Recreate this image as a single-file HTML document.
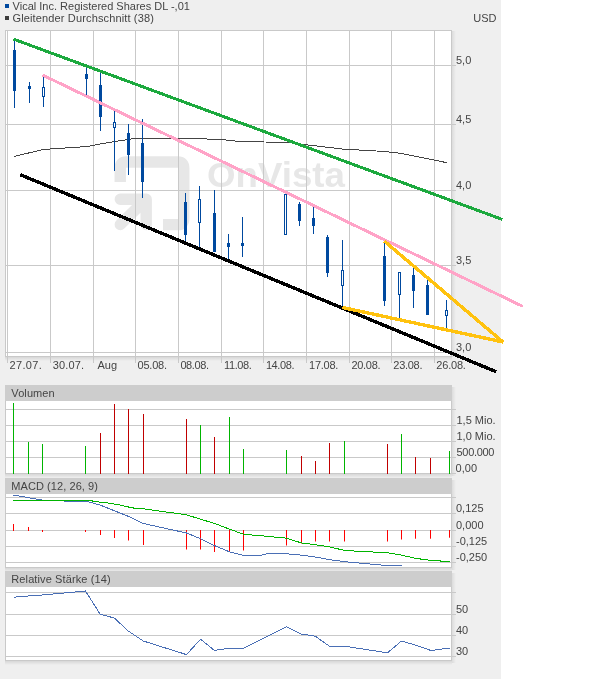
<!DOCTYPE html>
<html><head><meta charset="utf-8"><title>Vical Inc. Chart</title>
<style>html,body{margin:0;padding:0;background:#fff}svg{display:block}text{font-family:"Liberation Sans",Arial,sans-serif;font-size:11px;fill:#444444}</style></head><body>
<svg width="614" height="679" viewBox="0 0 614 679">
<defs><linearGradient id="sh" x1="0" y1="0" x2="0" y2="1"><stop offset="0" stop-color="#000" stop-opacity="0.10"/><stop offset="1" stop-color="#000" stop-opacity="0"/></linearGradient>
<linearGradient id="shr" x1="0" y1="0" x2="1" y2="0"><stop offset="0" stop-color="#000" stop-opacity="0.08"/><stop offset="1" stop-color="#000" stop-opacity="0"/></linearGradient></defs>
<rect x="0" y="0" width="501" height="679" fill="#efefef"/>
<rect x="5" y="4" width="4" height="4" fill="#00499f"/>
<rect x="5" y="16" width="4" height="4" fill="#3c3c3c"/>
<text x="12.600" y="10">Vical Inc. Registered Shares DL -,01</text>
<text x="12.500" y="22" style="letter-spacing:0.14px">Gleitender Durchschnitt (38)</text>
<text x="473.3" y="22">USD</text>
<rect x="452" y="31" width="4" height="326" fill="url(#shr)"/>
<rect x="5" y="357" width="447" height="4" fill="url(#sh)"/>
<rect x="5" y="30" width="447" height="327" fill="#fff"/>
<g fill="none" stroke="#e7e7e7" stroke-width="11.4">
<path d="M120.25,182 V168 Q120.25,162 126.25,162 H177.75 Q183.75,162 183.75,168 V218.600 Q183.75,224.600 177.75,224.600 H163" stroke-linejoin="round"/>
<path d="M120.300,199.200 H146.200 V224.500 M146.200,199.200 L120.300,224.500" stroke-linejoin="round" stroke-linecap="round"/>
</g>
<text x="207" y="187" textLength="138" lengthAdjust="spacingAndGlyphs" style="font-size:35px;font-weight:bold;fill:#e7e7e7">OnVista</text>
<rect x="7" y="31" width="1" height="332" fill="#c9c9c9"/>
<rect x="50" y="31" width="1" height="332" fill="#c9c9c9"/>
<rect x="93" y="31" width="1" height="332" fill="#c9c9c9"/>
<rect x="135" y="31" width="1" height="332" fill="#c9c9c9"/>
<rect x="178" y="31" width="1" height="332" fill="#c9c9c9"/>
<rect x="221" y="31" width="1" height="332" fill="#c9c9c9"/>
<rect x="263" y="31" width="1" height="332" fill="#c9c9c9"/>
<rect x="306" y="31" width="1" height="332" fill="#c9c9c9"/>
<rect x="349" y="31" width="1" height="332" fill="#c9c9c9"/>
<rect x="391" y="31" width="1" height="332" fill="#c9c9c9"/>
<rect x="434" y="31" width="1" height="332" fill="#c9c9c9"/>
<rect x="6" y="65" width="450" height="1" fill="#c9c9c9"/>
<rect x="6" y="124" width="450" height="1" fill="#c9c9c9"/>
<rect x="6" y="190" width="450" height="1" fill="#c9c9c9"/>
<rect x="6" y="265" width="450" height="1" fill="#c9c9c9"/>
<rect x="6" y="352" width="450" height="1" fill="#c9c9c9"/>
<rect x="5" y="30" width="447" height="1" fill="#c9c9c9"/>
<rect x="5" y="356" width="447" height="1" fill="#c9c9c9"/>
<rect x="5" y="30" width="1" height="327" fill="#c9c9c9"/>
<rect x="451" y="30" width="1" height="327" fill="#c9c9c9"/>
<text x="456" y="64">5,0</text>
<text x="456" y="123">4,5</text>
<text x="456" y="189">4,0</text>
<text x="456" y="264">3,5</text>
<text x="456" y="351">3,0</text>
<text x="9.4" y="369" style="letter-spacing:0.38px">27.07.</text>
<text x="52.8" y="369" style="letter-spacing:0.14px">30.07.</text>
<text x="97.5" y="369" style="letter-spacing:0px">Aug</text>
<text x="137.5" y="369" style="letter-spacing:-0.2px">05.08.</text>
<text x="180.4" y="369" style="letter-spacing:-0.4px">08.08.</text>
<text x="224.1" y="369" style="letter-spacing:-0.4px">11.08.</text>
<text x="265.9" y="369" style="letter-spacing:-0.4px">14.08.</text>
<text x="309.1" y="369" style="letter-spacing:-0.28px">17.08.</text>
<text x="351.4" y="369" style="letter-spacing:-0.28px">20.08.</text>
<text x="393.3" y="369" style="letter-spacing:-0.28px">23.08.</text>
<text x="436.3" y="369" style="letter-spacing:-0.2px">26.08.</text>
<polyline shape-rendering="crispEdges" fill="none" stroke="#444" stroke-width="1" points="14,156.5 43,149.5 88,146.5 100,144 114,141.6 128,139.5 137,138.2 200,138.2 207,139 221,139.5 235,141 264,142 286,142.2 300,144 342,149 385,151.5 400,153.2 447,162.7"/>
<rect x="14" y="39" width="1" height="69" fill="#00499f"/>
<rect x="13" y="50" width="3" height="41" fill="#00499f"/>
<rect x="29" y="82" width="1" height="21" fill="#00499f"/>
<rect x="28" y="86" width="3" height="3" fill="#00499f"/>
<rect x="43" y="77" width="1" height="30" fill="#00499f"/>
<rect x="42.5" y="87.5" width="2" height="9" fill="#fff" stroke="#00499f" stroke-width="1"/>
<rect x="86" y="67" width="1" height="28" fill="#00499f"/>
<rect x="85" y="74" width="3" height="5" fill="#00499f"/>
<rect x="100" y="73" width="1" height="58" fill="#00499f"/>
<rect x="99" y="85" width="3" height="32" fill="#00499f"/>
<rect x="114" y="111" width="1" height="60" fill="#00499f"/>
<rect x="113.5" y="122.5" width="2" height="5" fill="#fff" stroke="#00499f" stroke-width="1"/>
<rect x="128" y="124" width="1" height="51" fill="#00499f"/>
<rect x="127" y="133" width="3" height="22" fill="#00499f"/>
<rect x="142" y="119" width="1" height="79" fill="#00499f"/>
<rect x="141" y="143" width="3" height="39" fill="#00499f"/>
<rect x="185" y="193" width="1" height="48" fill="#00499f"/>
<rect x="184" y="202" width="3" height="33" fill="#00499f"/>
<rect x="199" y="186" width="1" height="61" fill="#00499f"/>
<rect x="198.5" y="199.5" width="2" height="23" fill="#fff" stroke="#00499f" stroke-width="1"/>
<rect x="214" y="190" width="1" height="62" fill="#00499f"/>
<rect x="213" y="213" width="3" height="39" fill="#00499f"/>
<rect x="228" y="234" width="1" height="25" fill="#00499f"/>
<rect x="227" y="243" width="3" height="4" fill="#00499f"/>
<rect x="242" y="217" width="1" height="40" fill="#00499f"/>
<rect x="241" y="243" width="3" height="3" fill="#00499f"/>
<rect x="285" y="194" width="1" height="41" fill="#00499f"/>
<rect x="284.5" y="194.5" width="2" height="40" fill="#fff" stroke="#00499f" stroke-width="1"/>
<rect x="299" y="202" width="1" height="24" fill="#00499f"/>
<rect x="298" y="204" width="3" height="17" fill="#00499f"/>
<rect x="313" y="207" width="1" height="27" fill="#00499f"/>
<rect x="312" y="218" width="3" height="8" fill="#00499f"/>
<rect x="327" y="235" width="1" height="42" fill="#00499f"/>
<rect x="326" y="237" width="3" height="36" fill="#00499f"/>
<rect x="342" y="240" width="1" height="67" fill="#00499f"/>
<rect x="341.5" y="270.5" width="2" height="15" fill="#fff" stroke="#00499f" stroke-width="1"/>
<rect x="384" y="242" width="1" height="64" fill="#00499f"/>
<rect x="383" y="256" width="3" height="45" fill="#00499f"/>
<rect x="399" y="272" width="1" height="46" fill="#00499f"/>
<rect x="398.5" y="272.5" width="2" height="22" fill="#fff" stroke="#00499f" stroke-width="1"/>
<rect x="413" y="268" width="1" height="40" fill="#00499f"/>
<rect x="412" y="275" width="3" height="16" fill="#00499f"/>
<rect x="427" y="280" width="1" height="35" fill="#00499f"/>
<rect x="426" y="285" width="3" height="30" fill="#00499f"/>
<rect x="446" y="300" width="1" height="29" fill="#00499f"/>
<rect x="445.5" y="310.5" width="2" height="5" fill="#fff" stroke="#00499f" stroke-width="1"/>
<g shape-rendering="crispEdges">
<line x1="13.5" y1="39.1" x2="502.5" y2="219.5" stroke="#1ca93e" stroke-width="3"/>
<line x1="42.5" y1="75" x2="523" y2="306.5" stroke="#ffa3c7" stroke-width="3"/>
<line x1="20.3" y1="174.700" x2="496.300" y2="371.800" stroke="#000" stroke-width="3.4"/>
<polyline points="342.5,307.500 503,342 384.200,241" fill="none" stroke="#ffc20e" stroke-width="3.4" stroke-linejoin="miter"/>
</g>
<rect x="5" y="474" width="447" height="4" fill="url(#sh)"/>
<rect x="452" y="387" width="4" height="89" fill="url(#shr)"/>
<rect x="5" y="385" width="447" height="16" fill="#cdcdcd"/>
<text x="11.300" y="397" style="letter-spacing:0.1px">Volumen</text>
<rect x="5" y="401" width="447" height="73" fill="#fff"/>
<rect x="6" y="409" width="450" height="1" fill="#c9c9c9"/>
<rect x="6" y="425" width="450" height="1" fill="#c9c9c9"/>
<rect x="6" y="441" width="450" height="1" fill="#c9c9c9"/>
<rect x="6" y="457" width="450" height="1" fill="#c9c9c9"/>
<rect x="6" y="473" width="450" height="1" fill="#c9c9c9"/>
<rect x="5" y="473" width="447" height="1" fill="#c9c9c9"/>
<rect x="5" y="401" width="1" height="73" fill="#c9c9c9"/>
<rect x="451" y="401" width="1" height="73" fill="#c9c9c9"/>
<text x="456.5" y="424">1,5 Mio.</text>
<text x="456.5" y="440">1,0 Mio.</text>
<text x="456.5" y="456" style="letter-spacing:-0.3px">500.000</text>
<text x="455.6" y="472">0,00</text>
<rect x="13" y="403" width="1" height="71" fill="#00b400"/>
<rect x="28" y="442" width="1" height="32" fill="#00b400"/>
<rect x="42" y="444" width="1" height="30" fill="#00b400"/>
<rect x="85" y="446" width="1" height="28" fill="#00b400"/>
<rect x="100" y="433" width="1" height="41" fill="#c00000"/>
<rect x="114" y="404" width="1" height="70" fill="#c00000"/>
<rect x="128" y="409" width="1" height="65" fill="#c00000"/>
<rect x="143" y="414" width="1" height="60" fill="#c00000"/>
<rect x="186" y="419" width="1" height="55" fill="#c00000"/>
<rect x="200" y="425" width="1" height="49" fill="#00b400"/>
<rect x="214" y="437" width="1" height="37" fill="#c00000"/>
<rect x="229" y="417" width="1" height="57" fill="#00b400"/>
<rect x="243" y="449" width="1" height="25" fill="#00b400"/>
<rect x="286" y="450" width="1" height="24" fill="#00b400"/>
<rect x="301" y="456" width="1" height="18" fill="#c00000"/>
<rect x="315" y="461" width="1" height="13" fill="#c00000"/>
<rect x="329" y="443" width="1" height="31" fill="#c00000"/>
<rect x="344" y="441" width="1" height="33" fill="#00b400"/>
<rect x="387" y="444" width="1" height="30" fill="#c00000"/>
<rect x="401" y="434" width="1" height="40" fill="#00b400"/>
<rect x="415" y="457" width="1" height="17" fill="#c00000"/>
<rect x="430" y="458" width="1" height="16" fill="#c00000"/>
<rect x="449" y="451" width="1" height="23" fill="#00b400"/>
<rect x="5" y="568" width="447" height="4" fill="url(#sh)"/>
<rect x="452" y="480" width="4" height="90" fill="url(#shr)"/>
<rect x="5" y="478" width="447" height="16" fill="#cdcdcd"/>
<text x="11.300" y="490" style="letter-spacing:0.07px">MACD (12, 26, 9)</text>
<rect x="5" y="494" width="447" height="74" fill="#fff"/>
<rect x="6" y="497" width="450" height="1" fill="#c9c9c9"/>
<rect x="6" y="513" width="450" height="1" fill="#c9c9c9"/>
<rect x="6" y="530" width="450" height="1" fill="#c9c9c9"/>
<rect x="6" y="546" width="450" height="1" fill="#c9c9c9"/>
<rect x="6" y="562" width="450" height="1" fill="#c9c9c9"/>
<rect x="5" y="567" width="447" height="1" fill="#c9c9c9"/>
<rect x="5" y="494" width="1" height="74" fill="#c9c9c9"/>
<rect x="451" y="494" width="1" height="74" fill="#c9c9c9"/>
<text x="456" y="512">0,125</text>
<text x="456" y="529">0,000</text>
<text x="456" y="545">-0,125</text>
<text x="456" y="561">-0,250</text>
<rect x="13" y="524" width="1" height="7" fill="#ff0000"/>
<rect x="28" y="527" width="1" height="4" fill="#ff0000"/>
<rect x="42" y="530" width="1" height="2" fill="#ff0000"/>
<rect x="85" y="530" width="1" height="2" fill="#ff0000"/>
<rect x="100" y="530" width="1" height="5" fill="#ff0000"/>
<rect x="114" y="530" width="1" height="8" fill="#ff0000"/>
<rect x="128" y="530" width="1" height="10.5" fill="#ff0000"/>
<rect x="143" y="530" width="1" height="15" fill="#ff0000"/>
<rect x="186" y="530" width="1" height="19.5" fill="#ff0000"/>
<rect x="200" y="530" width="1" height="19.5" fill="#ff0000"/>
<rect x="214" y="530" width="1" height="22" fill="#ff0000"/>
<rect x="229" y="530" width="1" height="22" fill="#ff0000"/>
<rect x="243" y="530" width="1" height="20.5" fill="#ff0000"/>
<rect x="286" y="530" width="1" height="15.5" fill="#ff0000"/>
<rect x="301" y="530" width="1" height="13.5" fill="#ff0000"/>
<rect x="315" y="530" width="1" height="11.5" fill="#ff0000"/>
<rect x="329" y="530" width="1" height="11.5" fill="#ff0000"/>
<rect x="344" y="530" width="1" height="11.5" fill="#ff0000"/>
<rect x="387" y="530" width="1" height="11.5" fill="#ff0000"/>
<rect x="401" y="530" width="1" height="9.5" fill="#ff0000"/>
<rect x="415" y="530" width="1" height="8.7" fill="#ff0000"/>
<rect x="430" y="530" width="1" height="8.7" fill="#ff0000"/>
<rect x="449" y="530" width="1" height="7.7" fill="#ff0000"/>
<polyline shape-rendering="crispEdges" fill="none" stroke="#4a6fb5" stroke-width="1" points="13,495.5 16,495.5 39,499.5 45,500.5 64,500.5 64.5,501.5 87,501.5 100,505 114,510.6 128,516.2 143,523.4 186.5,533 200.6,538.7 214.4,545.5 229.5,551.8 243.5,555.4 260,555.4 267,553.8 286.5,553.8 301.4,555.1 315.4,557 329.4,559.6 344.6,561.7 387.6,565.6 401.8,565.6"/>
<polyline shape-rendering="crispEdges" fill="none" stroke="#00b400" stroke-width="1" points="13,500.5 92,500.5 93,501.5 104,502.5 111,503.5 117.5,504.5 126,506.5 136,508.5 143,508.8 186.5,514.8 200.6,519.2 214.4,523.4 229.5,529.1 243.5,534.3 260,535.6 286.5,538.2 301.4,542.9 315.4,544.7 329.4,546.8 344.6,550.5 387.6,552.8 401.4,555.1 415.4,558.3 430.6,560.4 440,560.5 440.5,561.5 450,561.5"/>
<rect x="5" y="661" width="447" height="4" fill="url(#sh)"/>
<rect x="452" y="573" width="4" height="90" fill="url(#shr)"/>
<rect x="5" y="571" width="447" height="16" fill="#cdcdcd"/>
<text x="11.300" y="583" style="letter-spacing:0.11px">Relative Stärke (14)</text>
<rect x="5" y="587" width="447" height="74" fill="#fff"/>
<rect x="6" y="592" width="450" height="1" fill="#c9c9c9"/>
<rect x="6" y="614" width="450" height="1" fill="#c9c9c9"/>
<rect x="6" y="635" width="450" height="1" fill="#c9c9c9"/>
<rect x="6" y="656" width="450" height="1" fill="#c9c9c9"/>
<rect x="5" y="660" width="447" height="1" fill="#c9c9c9"/>
<rect x="5" y="587" width="1" height="74" fill="#c9c9c9"/>
<rect x="451" y="587" width="1" height="74" fill="#c9c9c9"/>
<text x="456" y="613">50</text>
<text x="456" y="634">40</text>
<text x="456" y="655">30</text>
<polyline shape-rendering="crispEdges" fill="none" stroke="#4a6fb5" stroke-width="1" points="13.5,597.2 28,596 42.5,595 85.5,591 100.3,614.4 114.4,618 128.2,631 143.3,641 186.5,654.6 200.6,639.2 214.4,650.4 229.5,648.3 243.5,648.3 286.5,626.7 301.4,634 315.4,636.3 329.4,646.2 344.6,646.2 387.6,652.8 401.4,641 415.4,645 430.6,650.4 440,649.5 445,648.5 450,648.5"/>
</svg></body></html>
